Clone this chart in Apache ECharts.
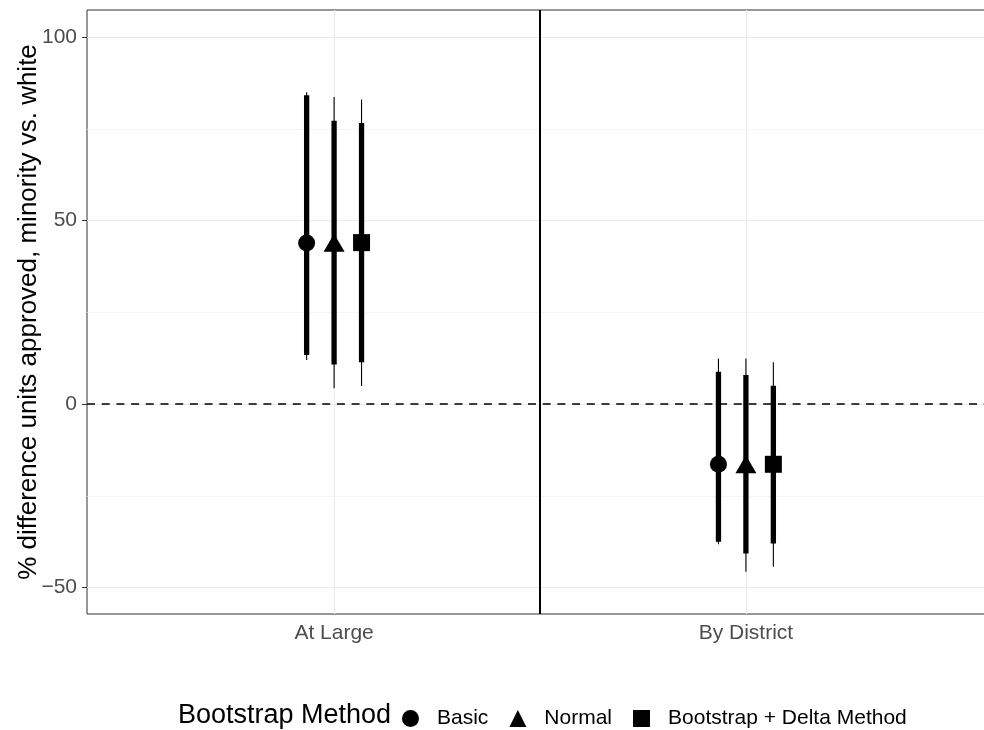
<!DOCTYPE html>
<html>
<head>
<meta charset="utf-8">
<script src="https://cdn.jsdelivr.net/npm/echarts@6/dist/echarts.min.js"></script>
<style>
html,body{margin:0;padding:0;background:#fff;}
#chart{width:984px;height:730px;}
</style>
</head>
<body>
<div id="chart"></div>
<script>
// ---- data ----
const categories = ['At Large', 'By District'];
const methods = ['Basic', 'Normal', 'Bootstrap + Delta Method'];

const basicEstimate  = [43.9, -16.4];
const basicInnerLow  = [13.4, -37.5];
const basicInnerHigh = [84.2, 8.8];
const basicOuterLow  = [12.0, -38.2];
const basicOuterHigh = [85.0, 12.4];

const normalEstimate  = [44.0, -16.4];
const normalInnerLow  = [10.8, -40.7];
const normalInnerHigh = [77.2, 7.9];
const normalOuterLow  = [4.3, -45.7];
const normalOuterHigh = [83.7, 12.4];

const deltaEstimate  = [44.0, -16.4];
const deltaInnerLow  = [11.4, -38.0];
const deltaInnerHigh = [76.6, 5.0];
const deltaOuterLow  = [4.9, -44.3];
const deltaOuterHigh = [83.0, 11.4];

const yTickValues = [-50, 0, 50, 100];
const yMinorValues = [-25, 25, 75];
const xTickValues = [1, 2];

// ---- build ----
const groups = [
  {name: methods[0], est: basicEstimate, il: basicInnerLow, ih: basicInnerHigh, ol: basicOuterLow, oh: basicOuterHigh, symbol: 'circle', size: 17},
  {name: methods[1], est: normalEstimate, il: normalInnerLow, ih: normalInnerHigh, ol: normalOuterLow, oh: normalOuterHigh, symbol: 'triangle', size: [21, 18]},
  {name: methods[2], est: deltaEstimate, il: deltaInnerLow, ih: deltaInnerHigh, ol: deltaOuterLow, oh: deltaOuterHigh, symbol: 'rect', size: 17}
];
const dodgeWidth = 0.2;
function dodgeX(i, j) { return i + 1 + (j - 1) * dodgeWidth / 3; }

const font = "'Liberation Sans', Arial, Helvetica, sans-serif";
const series = [];

// grid lines
const gridLineData = [];
xTickValues.forEach(v => gridLineData.push({xAxis: v, lineStyle: {color: '#EBEBEB', width: 1.2, type: 'solid'}}));
yTickValues.forEach(v => gridLineData.push({yAxis: v, lineStyle: {color: '#EBEBEB', width: 1.2, type: 'solid'}}));
yMinorValues.forEach(v => gridLineData.push({yAxis: v, lineStyle: {color: '#F0F0F0', width: 0.7, type: 'solid'}}));
series.push({
  type: 'line', data: [], z: 1, silent: true,
  markLine: {z: 1, silent: true, symbol: ['none', 'none'], label: {show: false}, animation: false, data: gridLineData}
});
// reference lines
series.push({
  type: 'line', data: [], z: 3, silent: true,
  markLine: {z: 3, silent: true, symbol: ['none', 'none'], label: {show: false}, animation: false,
    data: [
      {yAxis: 0, lineStyle: {color: '#000', width: 1.5, type: [8, 6.7]}},
      {xAxis: 1.5, lineStyle: {color: '#000', width: 2, type: 'solid'}}
    ]}
});

groups.forEach((g, j) => {
  series.push({
    type: 'custom', z: 6, silent: true,
    encode: {x: 0, y: [1, 2, 3, 4]},
    data: categories.map((c, i) => [dodgeX(i, j), g.ol[i], g.oh[i], g.il[i], g.ih[i]]),
    renderItem: function (params, api) {
      const x = api.value(0);
      const a = api.coord([x, api.value(1)]);
      const b = api.coord([x, api.value(2)]);
      const c = api.coord([x, api.value(3)]);
      const d = api.coord([x, api.value(4)]);
      return {type: 'group', children: [
        {type: 'line', shape: {x1: a[0], y1: a[1], x2: b[0], y2: b[1]}, style: {stroke: '#000', lineWidth: 1.1}},
        {type: 'line', shape: {x1: c[0], y1: c[1], x2: d[0], y2: d[1]}, style: {stroke: '#000', lineWidth: 5.3}}
      ]};
    }
  });
});
groups.forEach((g, j) => {
  series.push({
    type: 'scatter', name: g.name, z: 7,
    symbol: g.symbol, symbolSize: g.size,
    itemStyle: {color: '#000', opacity: 1},
    data: categories.map((c, i) => [dodgeX(i, j), g.est[i]])
  });
});

const chart = echarts.init(document.getElementById('chart'), null, {renderer: 'canvas'});
chart.setOption({
  animation: false,
  backgroundColor: '#fff',
  grid: {left: 87, top: 10, right: -9, bottom: 116, show: true, borderColor: '#333333', borderWidth: 1, backgroundColor: 'transparent', containLabel: false, outerBoundsMode: 'none'},
  xAxis: {
    type: 'value', min: 0.4, max: 2.6,
    axisLine: {show: false},
    axisTick: {show: true, customValues: xTickValues, length: 5, lineStyle: {color: '#333', width: 1}},
    axisLabel: {customValues: xTickValues, formatter: v => categories[Math.round(v) - 1], color: '#4D4D4D', fontSize: 21, fontFamily: font, margin: 9},
    splitLine: {show: false}
  },
  yAxis: {
    type: 'value', min: -57.2, max: 107.4,
    name: '% difference units approved, minority vs. white',
    nameLocation: 'middle', nameGap: 45, nameMoveOverlap: false,
    nameTextStyle: {color: '#000', fontSize: 26, fontFamily: font},
    axisLine: {show: false},
    axisTick: {show: true, customValues: yTickValues, length: 5, lineStyle: {color: '#333', width: 1}},
    axisLabel: {customValues: yTickValues, formatter: v => (v < 0 ? '\u2212' + Math.abs(v) : String(v)), color: '#4D4D4D', fontSize: 21, fontFamily: font, margin: 10},
    splitLine: {show: false}
  },
  legend: {
    show: true, orient: 'horizontal', left: 397, top: 703,
    data: [
      {name: methods[0], icon: 'circle'},
      {name: methods[1], icon: 'triangle'},
      {name: methods[2], icon: 'rect'}
    ],
    itemWidth: 17, itemHeight: 17, itemGap: 21,
    textStyle: {color: '#000', fontSize: 21, fontFamily: font, padding: [0, 0, 0, 13]},
    selectedMode: false
  },
  graphic: [{
    type: 'text', left: 178, top: 702,
    style: {text: 'Bootstrap Method', fill: '#000', fontSize: 27, fontFamily: font}
  }],
  series: series
});
</script>
</body>
</html>
